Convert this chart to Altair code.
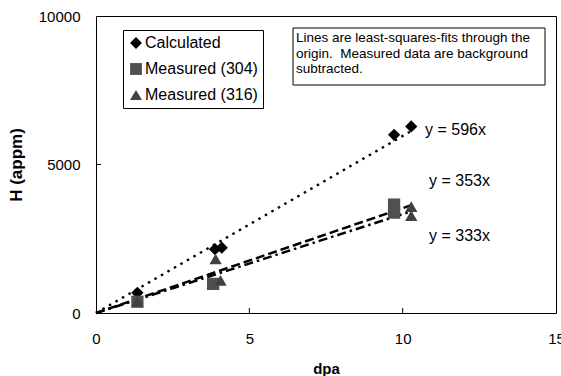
import altair as alt
import pandas as pd

# ---- data ----
calc_x = [1.35, 3.88, 4.10, 9.72, 10.28]
calc_y = [680, 2150, 2200, 6000, 6280]
m304_x = [1.35, 3.82, 9.72, 9.72]
m304_y = [380, 980, 3650, 3380]
m316_x = [1.35, 3.90, 4.06, 10.28, 10.28]
m316_y = [400, 1820, 1100, 3580, 3280]

series_names = ["Calculated", "Measured (304)", "Measured (316)"]
series_shapes = ["diamond", "square", "triangle-up"]
series_colors = ["#000000", "#505050", "#404040"]

fit_x = [0, 10.3]
fit596_y = [0, 6139]
fit353_y = [0, 3636]
fit333_y = [0, 3430]

eq_text = ["y = 596x", "y = 353x", "y = 333x"]
eq_x = [10.73, 10.86, 10.86]
eq_y = [6160, 4440, 2590]

x_ticks = [0, 5, 10, 15]
y_ticks = [0, 5000, 10000]

note_lines = ["Lines are least-squares-fits through the",
              "origin.\u00a0 Measured data are background",
              "subtracted."]

FONT = "Liberation Sans"
W, H = 460, 297

pts = pd.DataFrame(
    [{"series": series_names[0], "x": a, "y": b} for a, b in zip(calc_x, calc_y)]
    + [{"series": series_names[1], "x": a, "y": b} for a, b in zip(m304_x, m304_y)]
    + [{"series": series_names[2], "x": a, "y": b} for a, b in zip(m316_x, m316_y)]
)

xs = alt.Scale(domain=[0, 15], nice=False, zero=False)
ys = alt.Scale(domain=[0, 10000], nice=False, zero=False)

xax = alt.Axis(values=x_ticks, title="dpa", grid=False, domain=False, ticks=False, format="d",
               labelPadding=18, labelFontSize=15, labelFont=FONT, labelColor="black",
               titleFont=FONT, titleFontSize=15, titleFontWeight="bold", titleColor="black",
               titlePadding=15, labelFlush=False)
yax = alt.Axis(values=y_ticks, title="H (appm)", grid=False, domain=False, ticks=False, format="d",
               labelPadding=16, labelFontSize=15, labelFont=FONT, labelColor="black",
               titleFont=FONT, titleFontSize=17, titleFontWeight="bold", titleColor="black",
               titlePadding=13, labelFlush=False)

points = alt.Chart(pts).mark_point(filled=True, opacity=1, size=150).encode(
    x=alt.X("x:Q", scale=xs, axis=xax),
    y=alt.Y("y:Q", scale=ys, axis=yax),
    shape=alt.Shape("series:N", scale=alt.Scale(domain=series_names, range=series_shapes),
                    legend=alt.Legend(title=None)),
    color=alt.Color("series:N", scale=alt.Scale(domain=series_names, range=series_colors),
                    legend=alt.Legend(title=None)),
)

def fit_line(yvals, dash):
    df = pd.DataFrame({"x": fit_x, "y": yvals})
    return alt.Chart(df).mark_line(color="black", strokeWidth=2.5, strokeDash=dash).encode(
        x=alt.X("x:Q", scale=xs), y=alt.Y("y:Q", scale=ys))

l596 = fit_line(fit596_y, [2.5, 5])
l353 = fit_line(fit353_y, [9, 4])
l333 = fit_line(fit333_y, [9, 4, 2.5, 4])

eqs = alt.Chart(pd.DataFrame({"t": eq_text, "x": eq_x, "y": eq_y})).mark_text(
    align="left", baseline="middle", font=FONT, fontSize=16, color="black").encode(
    x=alt.X("x:Q", scale=xs), y=alt.Y("y:Q", scale=ys), text="t:N")

note_box = alt.Chart(pd.DataFrame({"a": [0]})).mark_rect(
    fill="white", stroke="black", strokeWidth=1).encode(
    x=alt.value(197), x2=alt.value(449), y=alt.value(12), y2=alt.value(69))

note_text = alt.Chart(pd.DataFrame({"a": [0]})).mark_text(
    align="left", baseline="top", font=FONT, fontSize=13.5, color="black",
    lineHeight=15.5, text=note_lines).encode(x=alt.value(200), y=alt.value(15))

ticks_x = alt.Chart(pd.DataFrame({"x": [5, 10]})).mark_rule(color="black").encode(
    x=alt.X("x:Q", scale=xs), y=alt.value(H), y2=alt.value(H - 5))
ticks_y = alt.Chart(pd.DataFrame({"y": [5000]})).mark_rule(color="black").encode(
    y=alt.Y("y:Q", scale=ys), x=alt.value(0), x2=alt.value(5))

chart = alt.layer(note_box, note_text, l596, l353, l333, points, eqs, ticks_x, ticks_y).properties(
    width=W, height=H,
    autosize=alt.AutoSizeParams(type="none"),
    padding={"left": 96, "top": 16, "right": 5, "bottom": 63},
    background="white",
).configure_view(stroke="black", strokeWidth=1).configure_legend(
    orient="none", legendX=27, legendY=14,
    strokeColor="black", fillColor="white", padding=5,
    labelFont=FONT, labelFontSize=16, labelColor="black",
    rowPadding=10, symbolSize=140, labelOffset=1, symbolStrokeWidth=0,
)

chart.save("out.html", embed_options={"renderer": "svg", "actions": False})
